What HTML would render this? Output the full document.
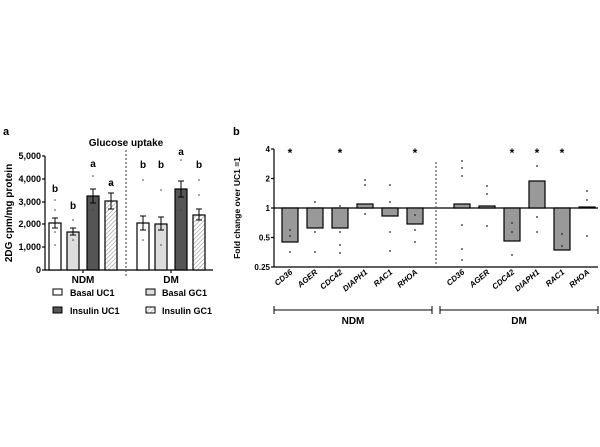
<!DOCTYPE html>
<html><head><meta charset="utf-8"><style>
html,body{margin:0;padding:0;background:#fff;}
svg{display:block;font-family:"Liberation Sans",Arial,sans-serif;font-weight:bold;}
</style></head><body>
<svg width="600" height="447" viewBox="0 0 600 447" xmlns="http://www.w3.org/2000/svg">
<defs>
<pattern id="hatch" patternUnits="userSpaceOnUse" width="3" height="3" patternTransform="rotate(45)">
<rect width="3" height="3" fill="#fff"/><line x1="0" y1="0" x2="0" y2="3" stroke="#999" stroke-width="1.2"/>
</pattern>
</defs>
<!-- Panel a -->
<text x="3" y="135" font-size="11">a</text>
<text x="126" y="146" font-size="10" text-anchor="middle">Glucose uptake</text>
<text transform="translate(12,213) rotate(-90)" font-size="10" text-anchor="middle">2DG cpm/mg protein</text>
<g font-size="9" text-anchor="end">
<text x="41" y="159">5,000</text><text x="41" y="182">4,000</text>
<text x="41" y="205">3,000</text><text x="41" y="227">2,000</text>
<text x="41" y="250">1,000</text><text x="41" y="273">0</text>
</g>
<g stroke="#000" stroke-width="1.2">
<line x1="45" y1="156" x2="45" y2="270"/><line x1="45" y1="270" x2="213" y2="270"/>
<line x1="42" y1="156" x2="45" y2="156"/><line x1="42" y1="179" x2="45" y2="179"/>
<line x1="42" y1="202" x2="45" y2="202"/><line x1="42" y1="224" x2="45" y2="224"/>
<line x1="42" y1="247" x2="45" y2="247"/><line x1="42" y1="270" x2="45" y2="270"/>
<line x1="83" y1="270" x2="83" y2="273"/><line x1="171" y1="270" x2="171" y2="273"/>
</g>
<line x1="126" y1="150" x2="126" y2="278" stroke="#555" stroke-width="1.2" stroke-dasharray="2,2"/>
<g stroke="#000" stroke-width="1.2">
<rect x="49" y="223" width="12" height="47" fill="#fff"/>
<rect x="67" y="232" width="12" height="38" fill="#ddd"/>
<rect x="87" y="196" width="12" height="74" fill="#555"/>
<rect x="105" y="201" width="12" height="69" fill="url(#hatch)"/>
<rect x="137" y="223" width="12" height="47" fill="#fff"/>
<rect x="155" y="224" width="12" height="46" fill="#ddd"/>
<rect x="175" y="189" width="12" height="81" fill="#555"/>
<rect x="193" y="215" width="12" height="55" fill="url(#hatch)"/>
</g>
<g stroke="#000" stroke-width="1" fill="none">
<path d="M52 218h6M55 218v10M52 228h6"/><path d="M70 228h6M73 228v7M70 235h6"/>
<path d="M90 189h6M93 189v14M90 203h6"/><path d="M108 193h6M111 193v16M108 209h6"/>
<path d="M140 216h6M143 216v14M140 230h6"/><path d="M158 217h6M161 217v13M158 230h6"/>
<path d="M178 181h6M181 181v16M178 197h6"/><path d="M196 209h6M199 209v11M196 220h6"/>
</g>
<g font-size="10" text-anchor="middle">
<text x="55" y="192">b</text><text x="73" y="209">b</text><text x="93" y="167">a</text><text x="111" y="186">a</text>
<text x="143" y="168">b</text><text x="161" y="168">b</text><text x="181" y="155">a</text><text x="199" y="168">b</text>
<text x="83" y="283">NDM</text><text x="171" y="283">DM</text>
</g>
<g fill="#444">
<circle cx="55" cy="200" r="0.8"/><circle cx="55" cy="210" r="0.8"/><circle cx="55" cy="232" r="0.8"/><circle cx="55" cy="245" r="0.8"/>
<circle cx="73" cy="220" r="0.8"/><circle cx="73" cy="240" r="0.8"/><circle cx="93" cy="176" r="0.8"/><circle cx="93" cy="210" r="0.8"/>
<circle cx="111" cy="184" r="0.8"/><circle cx="143" cy="180" r="0.8"/><circle cx="143" cy="240" r="0.8"/><circle cx="161" cy="190" r="0.8"/>
<circle cx="161" cy="245" r="0.8"/><circle cx="181" cy="160" r="0.8"/><circle cx="181" cy="210" r="0.8"/><circle cx="199" cy="180" r="0.8"/><circle cx="199" cy="195" r="0.8"/>
</g>
<g font-size="9" stroke="#000" stroke-width="1">
<rect x="53" y="289" width="9" height="6" fill="#fff"/><text x="70" y="296" stroke="none">Basal UC1</text>
<rect x="146" y="289" width="9" height="6" fill="#ddd"/><text x="162" y="296" stroke="none">Basal GC1</text>
<rect x="53" y="307" width="9" height="6" fill="#555"/><text x="70" y="314" stroke="none">Insulin UC1</text>
<rect x="146" y="307" width="9" height="6" fill="url(#hatch)"/><text x="162" y="314" stroke="none">Insulin GC1</text>
</g>
<!-- Panel b -->
<text x="233" y="135" font-size="11">b</text>
<text transform="translate(240,208) rotate(-90)" font-size="8.5" text-anchor="middle">Fold change over UC1 =1</text>
<g font-size="8" text-anchor="end">
<text x="270" y="152">4</text><text x="270" y="181.5">2</text><text x="270" y="211">1</text>
<text x="270" y="240.5">0.5</text><text x="270" y="270">0.25</text>
</g>
<g stroke="#000" stroke-width="1.2">
<line x1="274" y1="149" x2="274" y2="267"/><line x1="274" y1="267" x2="598" y2="267"/>
<line x1="274" y1="208" x2="598" y2="208"/>
<line x1="271" y1="149" x2="274" y2="149"/><line x1="271" y1="178.5" x2="274" y2="178.5"/>
<line x1="271" y1="208" x2="274" y2="208"/><line x1="271" y1="237.5" x2="274" y2="237.5"/>
<line x1="271" y1="267" x2="274" y2="267"/>
</g>
<line x1="436" y1="162" x2="436" y2="270" stroke="#555" stroke-width="1.2" stroke-dasharray="2,2"/>
<g stroke="#000" stroke-width="1.2" fill="#999">
<rect x="282" y="208" width="16" height="34"/><rect x="307" y="208" width="16" height="20"/>
<rect x="332" y="208" width="16" height="20"/><rect x="357" y="204" width="16" height="4"/>
<rect x="382" y="208" width="16" height="8"/><rect x="407" y="208" width="16" height="16"/>
<rect x="454" y="204" width="16" height="4"/><rect x="479" y="206" width="16" height="2"/>
<rect x="504" y="208" width="16" height="33"/><rect x="529" y="181" width="16" height="27"/>
<rect x="554" y="208" width="16" height="42"/><rect x="579" y="207" width="16" height="1"/>
</g>
<g fill="#222">
<circle cx="290" cy="230" r="0.9"/><circle cx="290" cy="236" r="0.9"/><circle cx="290" cy="252" r="0.9"/>
<circle cx="315" cy="202" r="0.9"/><circle cx="315" cy="232" r="0.9"/><circle cx="315" cy="252" r="0.9"/>
<circle cx="340" cy="206" r="0.9"/><circle cx="340" cy="232" r="0.9"/><circle cx="340" cy="245" r="0.9"/><circle cx="340" cy="253" r="0.9"/>
<circle cx="365" cy="180" r="0.9"/><circle cx="365" cy="185" r="0.9"/><circle cx="365" cy="214" r="0.9"/>
<circle cx="390" cy="185" r="0.9"/><circle cx="390" cy="202" r="0.9"/><circle cx="390" cy="232" r="0.9"/><circle cx="390" cy="251" r="0.9"/>
<circle cx="415" cy="215" r="0.9"/><circle cx="415" cy="230" r="0.9"/><circle cx="415" cy="242" r="0.9"/>
<circle cx="462" cy="161" r="0.9"/><circle cx="462" cy="168" r="0.9"/><circle cx="462" cy="176" r="0.9"/><circle cx="462" cy="225" r="0.9"/><circle cx="462" cy="249" r="0.9"/><circle cx="462" cy="260" r="0.9"/>
<circle cx="487" cy="186" r="0.9"/><circle cx="487" cy="194" r="0.9"/><circle cx="487" cy="226" r="0.9"/>
<circle cx="512" cy="223" r="0.9"/><circle cx="512" cy="232" r="0.9"/><circle cx="512" cy="255" r="0.9"/>
<circle cx="537" cy="166" r="0.9"/><circle cx="537" cy="217" r="0.9"/><circle cx="537" cy="232" r="0.9"/>
<circle cx="562" cy="234" r="0.9"/><circle cx="562" cy="246" r="0.9"/>
<circle cx="587" cy="191" r="0.9"/><circle cx="587" cy="200" r="0.9"/><circle cx="587" cy="236" r="0.9"/>
</g>
<g font-size="12" text-anchor="middle">
<text x="290" y="157">*</text><text x="340" y="157">*</text><text x="415" y="157">*</text>
<text x="512" y="157">*</text><text x="537" y="157">*</text><text x="562" y="157">*</text>
</g>
<g font-size="8" font-style="italic" text-anchor="end">
<text transform="translate(293,273) rotate(-40)">CD36</text>
<text transform="translate(318,273) rotate(-40)">AGER</text>
<text transform="translate(343,273) rotate(-40)">CDC42</text>
<text transform="translate(368,273) rotate(-40)">DIAPH1</text>
<text transform="translate(393,273) rotate(-40)">RAC1</text>
<text transform="translate(418,273) rotate(-40)">RHOA</text>
<text transform="translate(465,273) rotate(-40)">CD36</text>
<text transform="translate(490,273) rotate(-40)">AGER</text>
<text transform="translate(515,273) rotate(-40)">CDC42</text>
<text transform="translate(540,273) rotate(-40)">DIAPH1</text>
<text transform="translate(565,273) rotate(-40)">RAC1</text>
<text transform="translate(590,273) rotate(-40)">RHOA</text>
</g>
<g stroke="#000" stroke-width="1">
<path d="M274 310H432M274 306v8M432 306v8"/><path d="M440 310H598M440 306v8M598 306v8"/>
</g>
<g font-size="10" text-anchor="middle">
<text x="353" y="324">NDM</text><text x="519" y="324">DM</text>
</g>
</svg>
</body></html>
